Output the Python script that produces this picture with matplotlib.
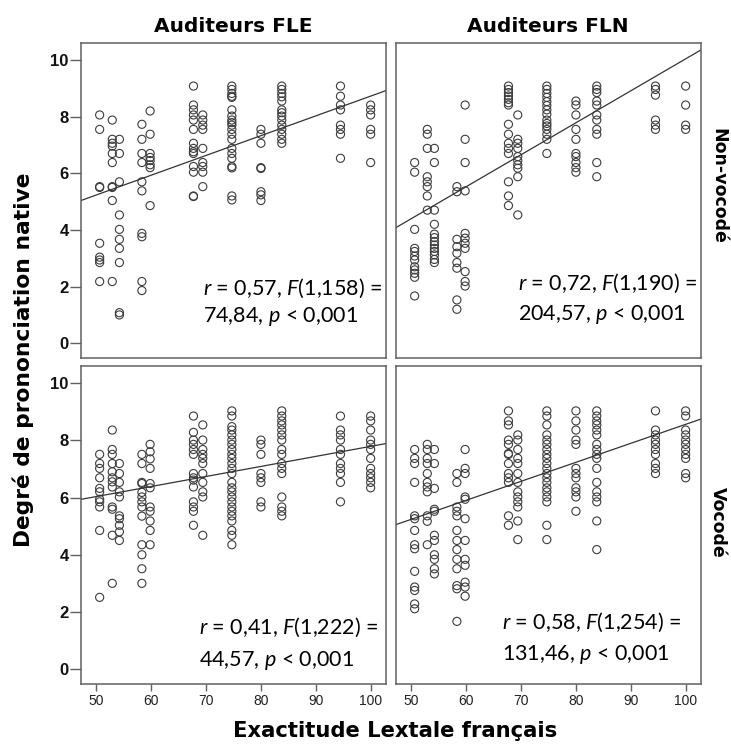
import numpy as np
import matplotlib
matplotlib.use("Agg")
import matplotlib.pyplot as plt

plt.rcParams['mathtext.fontset'] = 'custom'
plt.rcParams['mathtext.rm'] = 'Lato'
plt.rcParams['mathtext.it'] = 'Lato:italic'

# colonnes LexTALE (score) communes aux 4 panneaux
lextale = [50.6, 52.9, 54.2, 58.3, 59.8, 67.7, 69.4, 74.7, 80.0, 83.8, 94.5, 100.0]

# FLE, non-vocodé : valeurs y par colonne
fle_nonvoc = [
    [8.06, 7.55, 5.53, 5.5, 3.53, 3.04, 2.94, 2.85, 2.18],
    [7.88, 7.2, 7.06, 6.96, 6.7, 6.38, 5.53, 5.5, 5.04, 2.18],
    [7.2, 6.7, 5.7, 4.53, 4.02, 3.67, 3.35, 2.85, 1.08, 1.0],
    [7.73, 7.2, 6.7, 6.38, 5.7, 5.38, 3.88, 3.76, 2.18, 1.86],
    [8.2, 7.38, 6.7, 6.56, 6.45, 6.3, 6.2, 4.86],
    [9.08, 8.41, 8.24, 8.06, 7.88, 7.55, 7.06, 6.88, 6.76, 6.7, 6.24, 6.04, 5.2, 5.18],
    [8.06, 7.88, 7.7, 7.55, 6.88, 6.38, 6.24, 6.04, 5.53],
    [9.08, 8.96, 8.82, 8.72, 8.68, 8.24, 8.02, 7.88, 7.79, 7.7, 7.55, 7.38, 7.2,
     6.88, 6.7, 6.53, 6.24, 6.19, 5.2, 5.06],
    [7.55, 7.38, 7.06, 6.2, 6.17, 5.35, 5.24, 5.04],
    [9.08, 8.96, 8.82, 8.7, 8.55, 8.24, 8.14, 8.02, 7.88, 7.7, 7.55, 7.38, 7.2, 7.06],
    [9.08, 8.72, 8.41, 8.24, 7.7, 7.55, 7.38, 6.53],
    [8.41, 8.24, 8.06, 7.55, 7.38, 6.38],
]

# FLN, non-vocodé
fln_nonvoc = [
    [6.38, 6.04, 4.02, 3.35, 3.24, 3.08, 2.94, 2.7, 2.59, 2.47, 2.33, 1.67],
    [7.55, 7.38, 6.88, 5.88, 5.7, 5.53, 5.2, 4.7],
    [6.88, 6.38, 4.7, 4.2, 3.85, 3.73, 3.59, 3.47, 3.35, 3.24, 3.12, 2.96, 2.85],
    [5.53, 5.35, 3.67, 3.41, 3.18, 2.85, 2.65, 1.53, 1.2],
    [8.41, 7.2, 6.38, 5.38, 3.88, 3.71, 3.53, 3.35, 2.53, 2.18, 2.02],
    [9.08, 8.96, 8.85, 8.73, 8.61, 8.49, 8.41, 7.73, 7.38, 7.06, 6.88, 6.7, 5.7, 5.2, 4.86],
    [8.06, 7.2, 7.06, 6.88, 6.59, 6.45, 6.3, 6.18, 5.88, 4.53],
    [9.08, 8.96, 8.82, 8.68, 8.53, 8.39, 8.24, 8.09, 7.88, 7.76, 7.67, 7.55, 7.38, 7.2, 6.7],
    [8.55, 8.41, 8.06, 7.55, 7.2, 6.7, 6.59, 6.38, 6.2, 6.04],
    [9.08, 8.96, 8.85, 8.55, 8.41, 8.06, 7.88, 7.55, 7.38, 6.38, 5.88],
    [9.08, 8.96, 8.76, 7.88, 7.7, 7.55],
    [9.08, 8.41, 7.7, 7.55],
]

# FLE, vocodé
fle_voc = [
    [7.51, 7.19, 7.02, 6.69, 6.32, 6.2, 5.94, 5.85, 5.67, 4.85, 2.51],
    [8.36, 7.68, 7.51, 7.19, 6.9, 6.69, 6.55, 6.37, 5.67, 5.59, 4.68, 3.0],
    [7.19, 6.84, 6.53, 6.2, 6.02, 5.36, 5.26, 5.03, 4.8, 4.5],
    [7.51, 7.19, 6.53, 6.49, 6.18, 6.02, 5.85, 5.67, 5.35, 4.35, 4.0, 3.51, 3.0],
    [7.86, 7.6, 7.35, 7.02, 6.49, 6.34, 5.67, 5.52, 5.18, 4.85, 4.35],
    [8.85, 8.28, 8.01, 7.86, 7.68, 7.51, 6.84, 6.69, 6.61, 6.37, 5.85, 5.67, 5.52, 5.03],
    [8.54, 8.01, 7.68, 7.51, 7.37, 7.19, 6.84, 6.53, 6.2, 6.02, 4.68],
    [9.03, 8.85, 8.48, 8.36, 8.19, 8.01, 7.86, 7.68, 7.51, 7.37, 7.19, 7.02, 6.84,
     6.53, 6.34, 6.2, 6.02, 5.85, 5.67, 5.52, 5.36, 5.18, 4.85, 4.68, 4.35],
    [8.01, 7.86, 7.51, 6.84, 6.69, 6.53, 5.85, 5.67],
    [9.03, 8.85, 8.68, 8.54, 8.36, 8.19, 8.01, 7.68, 7.51, 7.19, 7.02, 6.84, 6.02,
     5.67, 5.52, 5.36],
    [8.85, 8.36, 8.19, 8.01, 7.68, 7.51, 7.19, 7.02, 6.84, 6.53, 5.85],
    [8.85, 8.68, 8.36, 8.01, 7.86, 7.68, 7.37, 7.02, 6.84, 6.69, 6.53, 6.34],
]

# FLN, vocodé
fln_voc = [
    [7.68, 7.37, 7.19, 6.53, 5.36, 5.26, 4.85, 4.35, 4.21, 3.42, 2.87, 2.75, 2.28, 2.11],
    [7.86, 7.68, 7.37, 7.19, 6.84, 6.53, 6.37, 6.2, 5.36, 5.17, 4.35],
    [7.68, 7.19, 6.32, 5.59, 5.52, 4.68, 4.5, 4.0, 3.84, 3.51, 3.33],
    [6.84, 6.53, 5.67, 5.52, 5.36, 4.85, 4.5, 4.18, 3.84, 3.51, 2.92, 2.81, 1.67],
    [7.68, 7.02, 6.84, 6.02, 5.94, 5.26, 4.5, 3.84, 3.63, 3.04, 2.87, 2.55],
    [9.03, 8.68, 8.54, 8.01, 7.86, 7.54, 7.51, 7.19, 6.84, 6.69, 6.53, 5.36, 5.03],
    [8.19, 8.01, 7.68, 7.37, 7.19, 6.84, 6.53, 6.2, 6.02, 5.85, 5.67, 5.18, 4.53],
    [9.03, 8.85, 8.54, 8.19, 8.01, 7.86, 7.68, 7.51, 7.37, 7.19, 7.02, 6.84, 6.69,
     6.53, 6.34, 6.2, 6.02, 5.85, 5.03, 4.53],
    [9.03, 8.68, 8.36, 8.01, 7.86, 7.02, 6.84, 6.69, 6.34, 6.2, 6.02, 5.52],
    [9.03, 8.85, 8.68, 8.54, 8.36, 8.19, 7.86, 7.68, 7.51, 7.37, 7.02, 6.53, 6.2,
     6.02, 5.85, 5.18, 4.18],
    [9.03, 8.36, 8.19, 8.01, 7.86, 7.68, 7.51, 7.19, 7.02, 6.84],
    [9.03, 8.85, 8.36, 8.19, 8.01, 7.86, 7.68, 7.51, 7.37, 6.84, 6.69],
]

# droites de régression (ordonnée à l'origine, pente)
fit_intercepts = [1.745, -1.24, 4.28, 1.92]
fit_slopes = [0.0698, 0.1128, 0.0351, 0.0664]

col_titles = ["Auditeurs FLE", "Auditeurs FLN"]
row_titles = ["Non-vocodé", "Vocodé"]
stats_line1 = [r"$\mathit{r}$ = 0,57, $\mathit{F}$(1,158) =",
               r"$\mathit{r}$ = 0,72, $\mathit{F}$(1,190) =",
               r"$\mathit{r}$ = 0,41, $\mathit{F}$(1,222) =",
               r"$\mathit{r}$ = 0,58, $\mathit{F}$(1,254) ="]
stats_line2 = [r"74,84, $\mathit{p}$ < 0,001",
               r"204,57, $\mathit{p}$ < 0,001",
               r"44,57, $\mathit{p}$ < 0,001",
               r"131,46, $\mathit{p}$ < 0,001"]
x_ticks = [50, 60, 70, 80, 90, 100]
y_ticks = [0, 2, 4, 6, 8, 10]

W, H = 731, 745
fig = plt.figure(figsize=(W / 100, H / 100), dpi=100)


def px_axes(x0, y0, x1, y1):
    return fig.add_axes([x0 / W, 1 - y1 / H, (x1 - x0) / W, (y1 - y0) / H])


def ftext(x, y, s, **kw):
    fig.text(x / W, 1 - y / H, s, **kw)


panels = [fle_nonvoc, fln_nonvoc, fle_voc, fln_voc]
boxes = [(81, 43, 386, 358), (396, 43, 701, 358),
         (81, 366, 386, 684), (396, 366, 701, 684)]
text_pos = [(203, 288, 317), (518, 283, 314), (199, 627, 660), (502, 622, 654)]

for i, cols in enumerate(panels):
    ax = px_axes(*boxes[i])
    xs, ys = [], []
    for xv, vals in zip(lextale, cols):
        xs += [xv] * len(vals)
        ys += vals
    ax.scatter(xs, ys, s=34, facecolors='none', edgecolors='#3c3c3c', linewidths=0.8)
    xl = np.array([47.2, 102.8])
    ax.plot(xl, fit_intercepts[i] + fit_slopes[i] * xl, color='#333333', lw=0.9)
    ax.set_xlim(47.2, 102.8)
    ax.set_ylim(-0.52, 10.6)
    for sp in ax.spines.values():
        sp.set_color('#606060')
        sp.set_linewidth(1.1)
    ax.set_xticks(x_ticks)
    ax.set_yticks(y_ticks)
    ax.tick_params(colors='#606060', width=1.0)
    ax.tick_params(axis='x', length=5, pad=2, labelsize=10, labelcolor='#222222')
    ax.tick_params(axis='y', length=8, pad=1, labelsize=12, labelcolor='#111111')
    for lab in ax.get_yticklabels():
        lab.set_fontweight('bold')
        lab.set_family('Liberation Sans')
    for lab in ax.get_xticklabels():
        lab.set_family('Liberation Sans')
    if i < 2:
        ax.tick_params(axis='x', bottom=False, labelbottom=False)
    if i % 2 == 1:
        ax.tick_params(axis='y', left=False, labelleft=False)

    tx, ty1, ty2 = text_pos[i]
    ftext(tx, ty1, stats_line1[i], family='Lato', fontsize=15.5, va='center', zorder=10)
    ftext(tx, ty2, stats_line2[i], family='Lato', fontsize=15.5, va='center', zorder=10)

lab_font = 'DejaVu Sans'
ftext(233, 32, col_titles[0], family=lab_font, fontweight='bold', fontsize=14.5,
      ha='center', va='baseline')
ftext(548, 32, col_titles[1], family=lab_font, fontweight='bold', fontsize=14.5,
      ha='center', va='baseline')
ftext(718, 186, row_titles[0], family=lab_font, fontweight='bold', fontsize=12.5,
      ha='center', va='center', rotation=-90)
ftext(718, 522, row_titles[1], family=lab_font, fontweight='bold', fontsize=12.5,
      ha='center', va='center', rotation=-90)
ftext(23, 360, "Degré de prononciation native", family=lab_font,
      fontweight='bold', fontsize=15.7, ha='center', va='center', rotation=90)
ftext(395, 737, "Exactitude Lextale français", family=lab_font,
      fontweight='bold', fontsize=15.2, ha='center', va='baseline')

fig.savefig("out.png", dpi=100)
